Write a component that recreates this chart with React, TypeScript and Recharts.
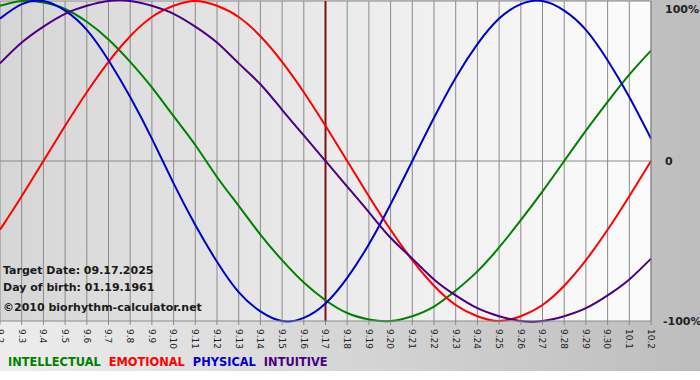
import { LineChart, Line, XAxis, YAxis, CartesianGrid, ReferenceLine, Legend } from 'recharts';

const days = [
  '9.2', '9.3', '9.4', '9.5', '9.6', '9.7', '9.8', '9.9', '9.10', '9.11', '9.12', '9.13', '9.14', '9.15', '9.16',
  '9.17', '9.18', '9.19', '9.20', '9.21', '9.22', '9.23', '9.24', '9.25', '9.26', '9.27', '9.28', '9.29', '9.30',
  '10.1', '10.2',
];

const intellectual = [97, 100, 99, 95, 87, 76, 62, 46, 28, 10, -10, -28, -46, -62, -76, -87, -95, -99, -100, -97, -91, -81, -69, -54, -37, -19, 0, 19, 37, 54, 69];
const emotional = [-43, -22, 0, 22, 43, 62, 78, 90, 97, 100, 97, 90, 78, 62, 43, 22, 0, -22, -43, -62, -78, -90, -97, -100, -97, -90, -78, -62, -43, -22, 0];
const physical = [89, 98, 100, 94, 82, 63, 40, 14, -14, -40, -63, -82, -94, -100, -98, -89, -73, -52, -27, 0, 27, 52, 73, 89, 98, 100, 94, 82, 63, 40, 14];
const intuitive = [61, 74, 84, 92, 97, 100, 100, 97, 92, 84, 74, 61, 48, 32, 16, 0, -16, -32, -48, -61, -74, -84, -92, -97, -100, -100, -97, -92, -84, -74, -61];

const seriesKeys = ['intellectual', 'emotional', 'physical', 'intuitive'];
const seriesNames = ['INTELLECTUAL', 'EMOTIONAL', 'PHYSICAL', 'INTUITIVE'];
const seriesColors = ['#008000', '#ff0000', '#0000cc', '#4b0082'];

const yTicks = [-100, 0, 100];
const targetDay = '9.17';
const infoLines = ['Target Date: 09.17.2025', 'Day of birth: 01.19.1961', '\u00a92010 biorhythm-calculator.net'];

const data = days.map((day, i) => ({
  i,
  day,
  intellectual: intellectual[i],
  emotional: emotional[i],
  physical: physical[i],
  intuitive: intuitive[i],
}));

const FONT = '"DejaVu Sans", Verdana, sans-serif';

function DayTick({ x, y, payload }: any) {
  return (
    <text
      x={x}
      y={y + 2}
      dy="0.35em"
      transform={`rotate(90, ${x}, ${y + 2})`}
      textAnchor="start"
      fontSize={9}
      fontFamily={FONT}
      fill="#222"
    >
      {days[payload.value]}
    </text>
  );
}

function PercentTick({ x, y, payload }: any) {
  const v = payload.value;
  const label = v === 0 ? '0' : `${v}%`;
  return (
    <text
      x={v < 0 ? x + 4 : x + 6}
      y={Math.max(y, 8)}
      dy="0.35em"
      textAnchor="start"
      fontSize={11}
      fontWeight="bold"
      fontFamily={FONT}
      fill="#222"
    >
      {label}
    </text>
  );
}

function LegendRow() {
  return (
    <div style={{ height: 24, paddingLeft: 8, fontFamily: FONT, fontSize: 11.4, fontWeight: 'bold', lineHeight: '12px', whiteSpace: 'nowrap' }}>
      {seriesNames.map((name, k) => (
        <span key={name} style={{ color: seriesColors[k], marginRight: 8 }}>
          {name}
        </span>
      ))}
    </div>
  );
}

export default function App() {
  return (
    <div
      style={{
        position: 'relative',
        width: 700,
        height: 380,
        background: 'linear-gradient(to right, #ededed, #bdbdbd) 0 0 / 700px 371px no-repeat, #ffffff',
      }}
    >
      <style>{'body{margin:0}'}</style>
      <svg width={0} height={0} style={{ position: 'absolute' }}>
        <defs>
          <linearGradient id="plotBg" x1="0" y1="0" x2="1" y2="0">
            <stop offset="0%" stopColor="#d6d6d6" />
            <stop offset="60%" stopColor="#eeeeee" />
            <stop offset="100%" stopColor="#fcfcfc" />
          </linearGradient>
        </defs>
      </svg>
      <LineChart width={700} height={380} data={data} margin={{ top: 1, right: 0, left: 0, bottom: 0 }}>
        <CartesianGrid horizontal={false} stroke="#8a8a8a" strokeDasharray="" fill="url(#plotBg)" fillOpacity={1} />
        <XAxis
          type="number"
          dataKey="i"
          domain={[0, days.length - 1]}
          ticks={days.map((_, i) => i)}
          interval={0}
          height={35}
          tick={<DayTick />}
          tickSize={4}
          tickLine={{ stroke: '#8a8a8a' }}
          axisLine={{ stroke: '#8a8a8a' }}
        />
        <YAxis
          orientation="right"
          width={49}
          domain={[-100, 100]}
          ticks={yTicks}
          tick={<PercentTick />}
          tickLine={false}
          axisLine={{ stroke: '#8a8a8a' }}
        />
        <ReferenceLine y={0} stroke="#8a8a8a" />
        <ReferenceLine y={100} stroke="#8a8a8a" />
        <ReferenceLine x={days.indexOf(targetDay)} stroke="#7a1010" strokeWidth={2} />
        {seriesKeys.map((key, k) => (
          <Line
            key={key}
            type="natural"
            dataKey={key}
            name={seriesNames[k]}
            stroke={seriesColors[k]}
            strokeWidth={2}
            dot={false}
            isAnimationActive={false}
          />
        ))}
        <Legend verticalAlign="bottom" align="left" height={24} content={<LegendRow />} />
      </LineChart>
      <div
        style={{
          position: 'absolute',
          left: 3,
          top: 262,
          fontFamily: FONT,
          fontSize: 11,
          fontWeight: 'bold',
          color: '#1a1a1a',
          lineHeight: '17px',
        }}
      >
        <div>{infoLines[0]}</div>
        <div>{infoLines[1]}</div>
        <div style={{ marginTop: 3 }}>{infoLines[2]}</div>
      </div>
    </div>
  );
}
